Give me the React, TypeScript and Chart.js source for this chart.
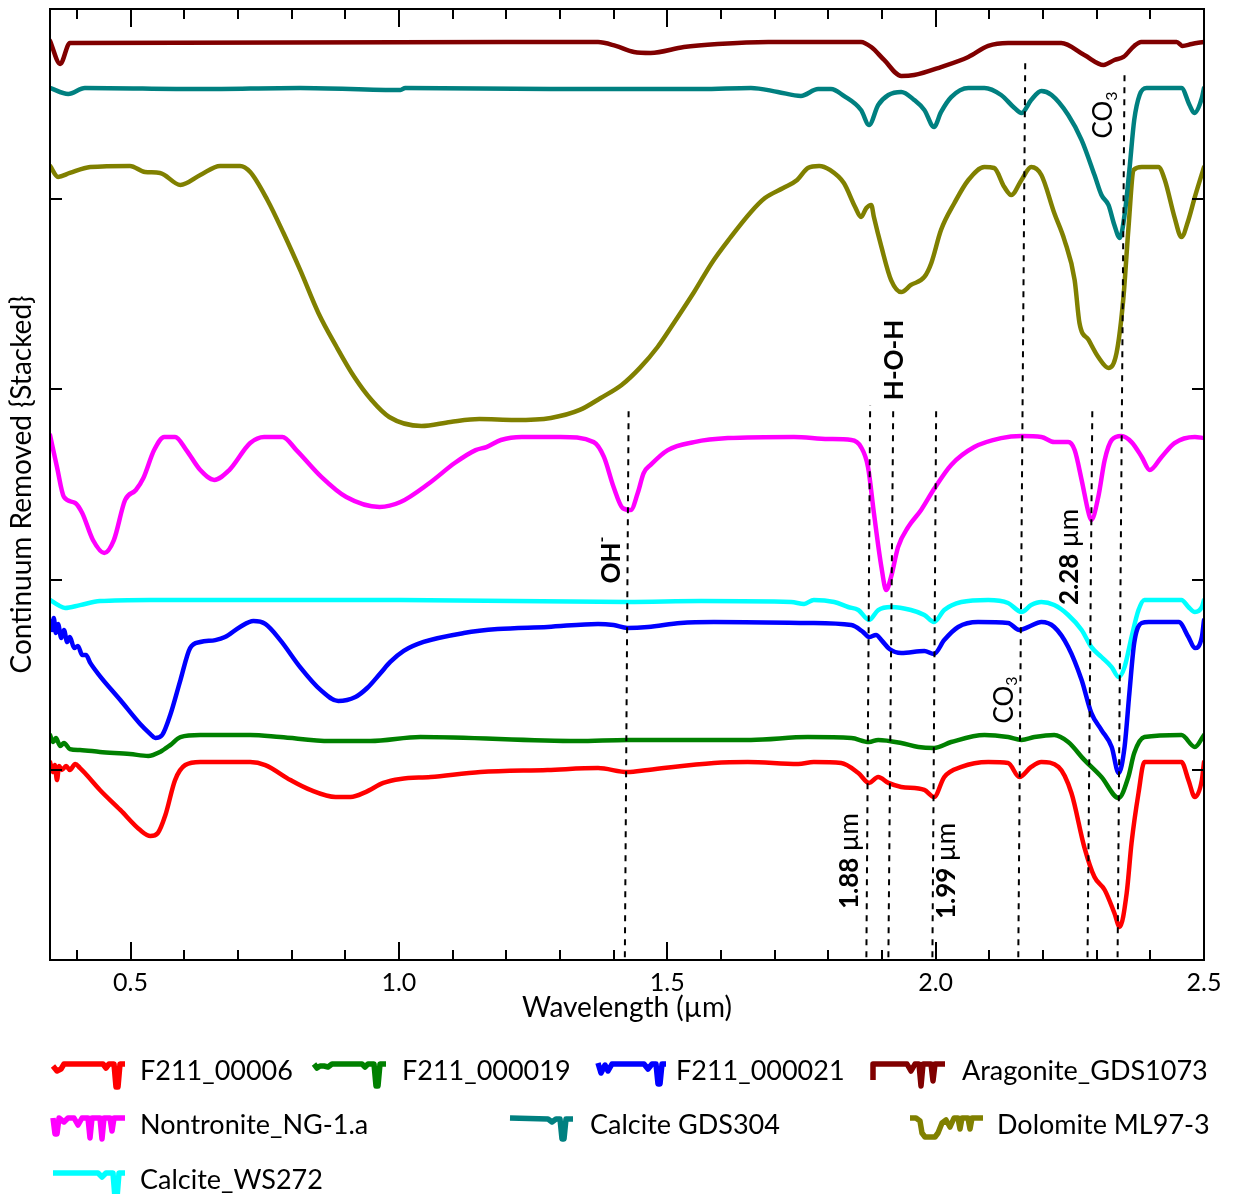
import React, { useEffect, useRef } from "react";
import { Chart, registerables } from "chart.js";

Chart.register(...registerables);

type Pt = [number, number];

// ---------- data: [wavelength (µm), continuum-removed stacked value] ----------
const f211_00006: Pt[] = [
  [0.35, 1.041], [0.356, 0.988], [0.359, 1.025], [0.363, 0.946], [0.367, 1.02], [0.372, 0.999],
  [0.38, 1.02], [0.387, 0.999], [0.397, 1.03], [0.406, 1.009], [0.415, 0.983], [0.443, 0.894],
  [0.481, 0.789], [0.518, 0.683], [0.537, 0.652], [0.551, 0.668], [0.565, 0.762], [0.583, 0.946],
  [0.602, 1.025], [0.63, 1.041], [0.723, 1.041], [0.751, 1.025], [0.798, 0.946], [0.835, 0.894],
  [0.882, 0.857], [0.91, 0.857], [0.938, 0.883], [0.971, 0.931], [1.003, 0.952], [1.059, 0.962],
  [1.152, 0.988], [1.277, 0.999], [1.371, 1.009], [1.426, 0.988], [1.464, 0.999], [1.587, 1.036],
  [1.65, 1.041], [1.744, 1.03], [1.773, 1.041], [1.824, 1.036], [1.856, 0.983], [1.876, 0.931],
  [1.893, 0.962], [1.912, 0.931], [1.936, 0.91], [1.979, 0.894], [1.997, 0.857], [2.016, 0.962],
  [2.048, 1.015], [2.098, 1.041], [2.135, 1.036], [2.156, 0.962], [2.178, 1.015], [2.197, 1.041],
  [2.229, 1.015], [2.253, 0.878], [2.277, 0.594], [2.296, 0.436], [2.315, 0.368], [2.333, 0.247],
  [2.343, 0.173], [2.356, 0.352], [2.365, 0.615], [2.378, 0.878], [2.389, 1.041], [2.458, 1.041],
  [2.471, 0.946], [2.483, 0.857], [2.496, 0.946], [2.5, 1.041],
];

const f211_000019: Pt[] = [
  [0.35, 1.183], [0.356, 1.146], [0.361, 1.167], [0.369, 1.125], [0.376, 1.141], [0.387, 1.109],
  [0.406, 1.104], [0.443, 1.094], [0.499, 1.083], [0.533, 1.073], [0.555, 1.094], [0.574, 1.13],
  [0.593, 1.172], [0.63, 1.183], [0.723, 1.183], [0.779, 1.172], [0.872, 1.151], [0.947, 1.151],
  [1.04, 1.172], [1.333, 1.151], [1.426, 1.157], [1.656, 1.157], [1.762, 1.172], [1.843, 1.167],
  [1.876, 1.146], [1.893, 1.157], [1.936, 1.141], [1.968, 1.12], [1.997, 1.115], [2.029, 1.146],
  [2.091, 1.183], [2.135, 1.172], [2.16, 1.157], [2.184, 1.172], [2.221, 1.183], [2.247, 1.146],
  [2.277, 1.052], [2.309, 0.962], [2.341, 0.852], [2.359, 0.962], [2.37, 1.088], [2.389, 1.172],
  [2.458, 1.183], [2.483, 1.12], [2.5, 1.183],
];

const f211_000021: Pt[] = [
  [0.35, 1.782], [0.354, 1.735], [0.357, 1.798], [0.361, 1.719], [0.365, 1.767], [0.371, 1.693],
  [0.376, 1.735], [0.382, 1.672], [0.387, 1.698], [0.395, 1.64], [0.402, 1.651], [0.41, 1.604],
  [0.417, 1.604], [0.425, 1.562], [0.443, 1.493], [0.481, 1.367], [0.518, 1.241], [0.537, 1.188],
  [0.546, 1.167], [0.559, 1.183], [0.574, 1.288], [0.593, 1.472], [0.611, 1.64], [0.63, 1.672],
  [0.658, 1.682], [0.676, 1.698], [0.704, 1.751], [0.729, 1.782], [0.751, 1.767], [0.779, 1.682],
  [0.816, 1.54], [0.854, 1.42], [0.887, 1.362], [0.919, 1.383], [0.941, 1.43], [0.966, 1.509],
  [0.984, 1.567], [1.009, 1.625], [1.046, 1.672], [1.121, 1.719], [1.184, 1.74], [1.277, 1.751],
  [1.371, 1.767], [1.4, 1.761], [1.426, 1.746], [1.464, 1.751], [1.525, 1.772], [1.587, 1.777],
  [1.762, 1.772], [1.843, 1.761], [1.865, 1.724], [1.876, 1.698], [1.889, 1.709], [1.899, 1.682],
  [1.914, 1.635], [1.936, 1.614], [1.979, 1.625], [1.997, 1.609], [2.016, 1.682], [2.042, 1.751],
  [2.079, 1.777], [2.135, 1.772], [2.156, 1.735], [2.173, 1.751], [2.197, 1.777], [2.221, 1.751],
  [2.247, 1.646], [2.272, 1.472], [2.29, 1.299], [2.309, 1.209], [2.328, 1.12], [2.341, 0.983],
  [2.352, 1.12], [2.361, 1.404], [2.37, 1.667], [2.384, 1.772], [2.397, 1.777], [2.453, 1.777],
  [2.471, 1.698], [2.483, 1.64], [2.496, 1.698], [2.5, 1.788],
];

const aragoniteGDS1073: Pt[] = [
  [0.35, 4.832], [0.369, 4.711], [0.387, 4.821], [1.371, 4.826], [1.404, 4.806], [1.438, 4.774],
  [1.469, 4.769], [1.531, 4.8], [1.594, 4.816], [1.688, 4.827], [1.861, 4.827], [1.88, 4.8],
  [1.904, 4.732], [1.936, 4.648], [1.96, 4.653], [2.01, 4.695], [2.061, 4.748], [2.098, 4.806],
  [2.135, 4.821], [2.234, 4.821], [2.277, 4.758], [2.313, 4.706], [2.333, 4.732], [2.35, 4.748],
  [2.37, 4.806], [2.383, 4.827], [2.449, 4.827], [2.46, 4.806], [2.477, 4.816], [2.5, 4.827],
];

const nontroniteNG1a: Pt[] = [
  [0.35, 2.76], [0.363, 2.592], [0.376, 2.434], [0.397, 2.403], [0.41, 2.35], [0.43, 2.208],
  [0.451, 2.14], [0.469, 2.208], [0.49, 2.419], [0.51, 2.471], [0.524, 2.534], [0.544, 2.681],
  [0.563, 2.75], [0.583, 2.75], [0.604, 2.681], [0.63, 2.576], [0.656, 2.524], [0.684, 2.576],
  [0.723, 2.718], [0.749, 2.75], [0.783, 2.75], [0.809, 2.681], [0.856, 2.539], [0.902, 2.434],
  [0.964, 2.382], [1.003, 2.408], [1.057, 2.508], [1.104, 2.613], [1.143, 2.681], [1.163, 2.697],
  [1.19, 2.734], [1.229, 2.75], [1.301, 2.75], [1.363, 2.723], [1.382, 2.645], [1.4, 2.487],
  [1.417, 2.376], [1.432, 2.366], [1.445, 2.455], [1.456, 2.56], [1.469, 2.603], [1.501, 2.681],
  [1.55, 2.723], [1.613, 2.744], [1.736, 2.75], [1.8, 2.739], [1.843, 2.734], [1.861, 2.697],
  [1.874, 2.592], [1.885, 2.35], [1.899, 2.066], [1.908, 1.945], [1.917, 2.014], [1.93, 2.171],
  [1.949, 2.277], [1.973, 2.366], [1.997, 2.476], [2.029, 2.603], [2.072, 2.697], [2.122, 2.744],
  [2.16, 2.755], [2.197, 2.75], [2.221, 2.723], [2.247, 2.723], [2.259, 2.681], [2.272, 2.524],
  [2.285, 2.35], [2.29, 2.313], [2.303, 2.434], [2.315, 2.629], [2.328, 2.734], [2.346, 2.755],
  [2.365, 2.723], [2.384, 2.645], [2.399, 2.576], [2.421, 2.645], [2.445, 2.718], [2.483, 2.75],
  [2.5, 2.744],
];

const calciteGDS304: Pt[] = [
  [0.35, 4.585], [0.384, 4.553], [0.415, 4.585], [0.63, 4.579], [0.816, 4.585], [1.003, 4.574],
  [1.012, 4.585], [1.283, 4.579], [1.563, 4.579], [1.656, 4.585], [1.706, 4.564], [1.749, 4.543],
  [1.781, 4.579], [1.805, 4.579], [1.829, 4.543], [1.861, 4.469], [1.876, 4.39], [1.893, 4.495],
  [1.912, 4.548], [1.936, 4.564], [1.96, 4.522], [1.979, 4.469], [1.997, 4.38], [2.01, 4.458],
  [2.029, 4.537], [2.061, 4.585], [2.091, 4.585], [2.122, 4.548], [2.147, 4.479], [2.16, 4.453],
  [2.178, 4.522], [2.197, 4.569], [2.216, 4.548], [2.247, 4.443], [2.272, 4.311], [2.296, 4.127],
  [2.309, 4.022], [2.322, 3.97], [2.333, 3.864], [2.343, 3.796], [2.352, 3.917], [2.361, 4.154],
  [2.37, 4.416], [2.38, 4.548], [2.393, 4.585], [2.458, 4.585], [2.473, 4.495], [2.482, 4.453],
  [2.496, 4.532], [2.5, 4.585],
];

const dolomiteML973: Pt[] = [
  [0.35, 4.175], [0.365, 4.117], [0.387, 4.138], [0.425, 4.169], [0.499, 4.175], [0.527, 4.143],
  [0.555, 4.138], [0.593, 4.075], [0.63, 4.127], [0.667, 4.175], [0.704, 4.175], [0.723, 4.143],
  [0.755, 3.996], [0.785, 3.822], [0.816, 3.628], [0.85, 3.402], [0.884, 3.223], [0.917, 3.065],
  [0.949, 2.944], [0.982, 2.855], [1.042, 2.808], [1.096, 2.829], [1.15, 2.844], [1.216, 2.839],
  [1.283, 2.85], [1.337, 2.892], [1.376, 2.955], [1.415, 3.023], [1.449, 3.113], [1.482, 3.223],
  [1.516, 3.365], [1.55, 3.512], [1.583, 3.665], [1.617, 3.796], [1.656, 3.933], [1.682, 4.006],
  [1.716, 4.059], [1.742, 4.101], [1.762, 4.164], [1.783, 4.175], [1.803, 4.154], [1.829, 4.085],
  [1.85, 3.959], [1.861, 3.906], [1.871, 3.954], [1.88, 3.97], [1.885, 3.906], [1.899, 3.749],
  [1.917, 3.575], [1.936, 3.512], [1.954, 3.549], [1.979, 3.591], [1.992, 3.665], [2.01, 3.838],
  [2.035, 3.98], [2.061, 4.101], [2.091, 4.169], [2.109, 4.164], [2.128, 4.064], [2.141, 4.022],
  [2.16, 4.101], [2.178, 4.169], [2.197, 4.127], [2.221, 3.927], [2.24, 3.785], [2.259, 3.575],
  [2.268, 3.349], [2.285, 3.26], [2.303, 3.17], [2.322, 3.113], [2.337, 3.191], [2.35, 3.486],
  [2.359, 3.838], [2.369, 4.154], [2.384, 4.169], [2.415, 4.169], [2.427, 4.101], [2.445, 3.906],
  [2.458, 3.801], [2.471, 3.891], [2.483, 4.012], [2.5, 4.169],
];

const calciteWS272: Pt[] = [
  [0.35, 1.893], [0.365, 1.866], [0.378, 1.851], [0.406, 1.866], [0.443, 1.887], [0.537, 1.893],
  [1.003, 1.893], [1.426, 1.882], [1.563, 1.887], [1.731, 1.882], [1.755, 1.872], [1.773, 1.893],
  [1.811, 1.882], [1.837, 1.856], [1.856, 1.84], [1.876, 1.788], [1.893, 1.84], [1.917, 1.856],
  [1.954, 1.84], [1.979, 1.814], [1.997, 1.777], [2.016, 1.84], [2.048, 1.882], [2.098, 1.893],
  [2.135, 1.877], [2.16, 1.83], [2.178, 1.866], [2.197, 1.882], [2.221, 1.866], [2.247, 1.814],
  [2.272, 1.735], [2.29, 1.646], [2.309, 1.593], [2.328, 1.54], [2.341, 1.488], [2.352, 1.54],
  [2.365, 1.698], [2.378, 1.84], [2.389, 1.893], [2.458, 1.893], [2.471, 1.856], [2.483, 1.83],
  [2.496, 1.856], [2.5, 1.893],
];

const seriesNames = [
  "F211_00006", "F211_000019", "F211_000021", "Aragonite_GDS1073",
  "Nontronite_NG-1.a", "Calcite GDS304", "Dolomite ML97-3", "Calcite_WS272",
];
const seriesData = [
  f211_00006, f211_000019, f211_000021, aragoniteGDS1073,
  nontroniteNG1a, calciteGDS304, dolomiteML973, calciteWS272,
];

// absorption-feature guide lines: [top point, bottom point]
const featureLines: [Pt, Pt][] = [
  [[1.428, 2.892], [1.421, 0.015]],
  [[1.878, 2.918], [1.871, 0.015]],
  [[1.921, 2.907], [1.912, 0.015]],
  [[2.001, 2.902], [1.994, 0.015]],
  [[2.167, 4.742], [2.154, 0.015]],
  [[2.292, 2.913], [2.283, 0.015]],
  [[2.352, 4.679], [2.339, 0.015]],
];

type Part = { t: string; bold?: boolean; size?: number; dy?: number };
const featureLabels: { at: Pt; parts: Part[] }[] = [
  { at: [1.397, 2.103], parts: [{ t: "OH", bold: true }, { t: "-", bold: true, size: 16, dy: -10 }] },
  { at: [1.923, 3.155], parts: [{ t: "H-O-H", bold: true }] },
  { at: [2.249, 2.119], parts: [{ t: "2.28 ", bold: true }, { t: "µm" }] },
  { at: [2.128, 1.367], parts: [{ t: "CO" }, { t: "3", size: 16, dy: 8 }] },
  { at: [2.313, 4.443], parts: [{ t: "CO" }, { t: "3", size: 16, dy: 8 }] },
  { at: [1.839, 0.52], parts: [{ t: "1.88 ", bold: true }, { t: "µm" }] },
  { at: [2.02, 0.468], parts: [{ t: "1.99 ", bold: true }, { t: "µm" }] },
];

const xMajorTicks = [0.5, 1.0, 1.5, 2.0, 2.5];
const xMinorTicks = [0.4, 0.6, 0.7, 0.8, 0.9, 1.1, 1.2, 1.3, 1.4, 1.6, 1.7, 1.8, 1.9, 2.1, 2.2, 2.3, 2.4];
const yTicks = [1, 2, 3, 4];

// ---------- styles ----------
const seriesColors = ["#ff0000", "#008000", "#0000ff", "#800000", "#ff00ff", "#008080", "#808000", "#00ffff"];
const FONT = "Lato";
const W = 1234;
const H = 1194;

// legend layout & mini-spectrum icons (style only)
const legendLayout = [
  { ix: 53, tx: 140, y: 1071 },
  { ix: 314, tx: 402, y: 1071 },
  { ix: 598, tx: 676, y: 1071 },
  { ix: 873, tx: 962, y: 1071 },
  { ix: 53, tx: 140, y: 1125 },
  { ix: 510, tx: 590, y: 1125 },
  { ix: 910, tx: 997, y: 1125 },
  { ix: 53, tx: 140, y: 1180 },
];
const legendIcons: number[][][] = [
  [[0, -5], [4, 0], [8, -2], [11, -7], [50, -7], [53, -3], [56, -7], [61, -7], [63, 16], [65, 16], [67, -7], [72, -7]],
  [[0, -7], [3, -3], [6, -5], [10, -5], [14, -4], [18, -7], [48, -7], [51, -4], [54, -7], [60, -7], [62, 15], [64, 15], [66, -7], [72, -7]],
  [[0, -8], [3, 2], [7, -6], [10, 0], [14, -7], [46, -7], [50, -2], [54, -7], [58, -7], [60, 13], [62, 13], [64, -7], [68, -7]],
  [[0, 9], [0, -7], [34, -7], [38, 0], [42, -7], [46, -7], [48, 15], [50, -7], [58, -7], [60, 10], [62, -7], [72, -7]],
  [[0, -7], [2, 9], [4, 9], [6, -7], [11, -3], [15, -7], [21, -7], [25, 0], [29, -7], [35, -7], [37, 13], [39, -7], [47, -7], [49, 14], [51, -7], [57, -7], [59, 6], [61, -7], [72, -7]],
  [[0, -7], [38, -6], [42, -3], [46, -6], [50, -6], [52, 14], [54, 14], [56, -6], [63, -6]],
  [[0, -7], [6, -7], [10, -4], [12, 8], [15, 12], [25, 12], [28, 8], [32, -2], [36, -5], [40, 2], [44, -7], [48, -7], [50, 4], [52, -7], [58, -7], [60, 4], [62, -7], [73, -7]],
  [[0, -7], [45, -7], [49, -3], [53, -7], [60, -7], [62, 18], [64, 18], [66, -7], [72, -7]],
];

function drawRotated(ctx: CanvasRenderingContext2D, cx: number, cy: number, parts: Part[]) {
  ctx.save();
  ctx.translate(cx, cy);
  ctx.rotate(-Math.PI / 2);
  ctx.fillStyle = "#000";
  ctx.textBaseline = "middle";
  ctx.textAlign = "left";
  const fontOf = (p: Part) => `${p.bold ? "bold " : ""}${p.size ?? 26}px ${FONT}`;
  let total = 0;
  for (const p of parts) {
    ctx.font = fontOf(p);
    total += ctx.measureText(p.t).width;
  }
  let xx = -total / 2;
  for (const p of parts) {
    ctx.font = fontOf(p);
    ctx.fillText(p.t, xx, p.dy ?? 0);
    xx += ctx.measureText(p.t).width;
  }
  ctx.restore();
}

const decorPlugin = {
  id: "decor",
  afterDatasetsDraw(chart: any) {
    const { ctx, chartArea: a, scales } = chart;
    const x = scales.x;
    const y = scales.y;
    ctx.save();
    ctx.strokeStyle = "#000";
    ctx.lineWidth = 2;
    ctx.strokeRect(a.left, a.top, a.right - a.left, a.bottom - a.top);
    ctx.beginPath();
    for (const v of xMajorTicks) {
      const px = Math.round(x.getPixelForValue(v));
      ctx.moveTo(px, a.bottom); ctx.lineTo(px, a.bottom - 18);
      ctx.moveTo(px, a.top); ctx.lineTo(px, a.top + 18);
    }
    for (const v of xMinorTicks) {
      const px = Math.round(x.getPixelForValue(v));
      ctx.moveTo(px, a.bottom); ctx.lineTo(px, a.bottom - 10);
      ctx.moveTo(px, a.top); ctx.lineTo(px, a.top + 10);
    }
    for (const v of yTicks) {
      const py = Math.round(y.getPixelForValue(v));
      ctx.moveTo(a.left, py); ctx.lineTo(a.left + 12, py);
      ctx.moveTo(a.right, py); ctx.lineTo(a.right - 12, py);
    }
    ctx.stroke();
    ctx.restore();
    for (const lab of featureLabels) {
      drawRotated(ctx, x.getPixelForValue(lab.at[0]), y.getPixelForValue(lab.at[1]), lab.parts);
    }
  },
  afterDraw(chart: any) {
    const { ctx } = chart;
    ctx.save();
    ctx.lineJoin = "round";
    ctx.lineCap = "butt";
    seriesNames.forEach((name, i) => {
      const L = legendLayout[i];
      const icon = legendIcons[i];
      ctx.strokeStyle = seriesColors[i];
      ctx.lineWidth = 5.5;
      ctx.beginPath();
      icon.forEach(([dx, dy], k) => {
        if (k === 0) ctx.moveTo(L.ix + dx, L.y + dy);
        else ctx.lineTo(L.ix + dx, L.y + dy);
      });
      ctx.stroke();
      ctx.fillStyle = "#000";
      ctx.font = `27px ${FONT}`;
      ctx.textBaseline = "middle";
      ctx.textAlign = "left";
      ctx.fillText(name, L.tx, L.y);
    });
    ctx.restore();
  },
};

export default function App() {
  const ref = useRef<HTMLCanvasElement | null>(null);
  useEffect(() => {
    document.body.style.margin = "0";
    const canvas = ref.current;
    if (!canvas) return;
    const datasets: any[] = [];
    featureLines.forEach(([top, bottom]) => {
      datasets.push({
        label: "guide",
        data: [{ x: bottom[0], y: bottom[1] }, { x: top[0], y: top[1] }],
        borderColor: "#000",
        borderWidth: 2,
        borderDash: [6, 6],
        pointRadius: 0,
        fill: false,
        order: 0,
      });
    });
    seriesData.forEach((pts, i) => {
      datasets.push({
        label: seriesNames[i],
        data: pts.map(([wl, v]) => ({ x: wl, y: v })),
        borderColor: seriesColors[i],
        backgroundColor: seriesColors[i],
        borderWidth: 4.5,
        pointRadius: 0,
        fill: false,
        cubicInterpolationMode: "monotone",
        borderJoinStyle: "round",
        borderCapStyle: "round",
        order: 1,
      });
    });
    const chart = new Chart(canvas, {
      type: "line",
      data: { datasets },
      options: {
        animation: false,
        responsive: false,
        devicePixelRatio: 1,
        layout: { autoPadding: false, padding: { top: 9, right: 30, bottom: 0, left: 0 } },
        plugins: { legend: { display: false }, tooltip: { enabled: false } },
        scales: {
          x: {
            type: "linear",
            min: 0.35,
            max: 2.5,
            afterBuildTicks: (s: any) => { s.ticks = xMajorTicks.map((v) => ({ value: v })); },
            afterFit: (s: any) => { s.height = H - 960; },
            grid: { display: false, drawTicks: false },
            border: { display: false },
            ticks: {
              padding: 8,
              autoSkip: false,
              maxRotation: 0,
              color: "#000",
              font: { family: FONT, size: 25 },
              callback: (v: any) => Number(v).toFixed(1),
            },
            title: {
              display: true,
              text: "Wavelength (µm)",
              color: "#000",
              font: { family: FONT, size: 28 },
              padding: { top: 0, bottom: 169 },
            },
          },
          y: {
            type: "linear",
            min: 0,
            max: 5,
            afterBuildTicks: (s: any) => { s.ticks = yTicks.map((v) => ({ value: v })); },
            afterFit: (s: any) => { s.width = 50; },
            grid: { display: false, drawTicks: false },
            border: { display: false },
            ticks: { display: false },
            title: {
              display: true,
              text: "Continuum Removed {Stacked}",
              color: "#000",
              font: { family: FONT, size: 28 },
              padding: { top: 5, bottom: 0 },
            },
          },
        },
      },
      plugins: [decorPlugin],
    } as any);
    return () => chart.destroy();
  }, []);
  return (
    <div style={{ width: W, height: H, position: "relative" }}>
      <canvas ref={ref} width={W} height={H} style={{ display: "block" }} />
    </div>
  );
}
